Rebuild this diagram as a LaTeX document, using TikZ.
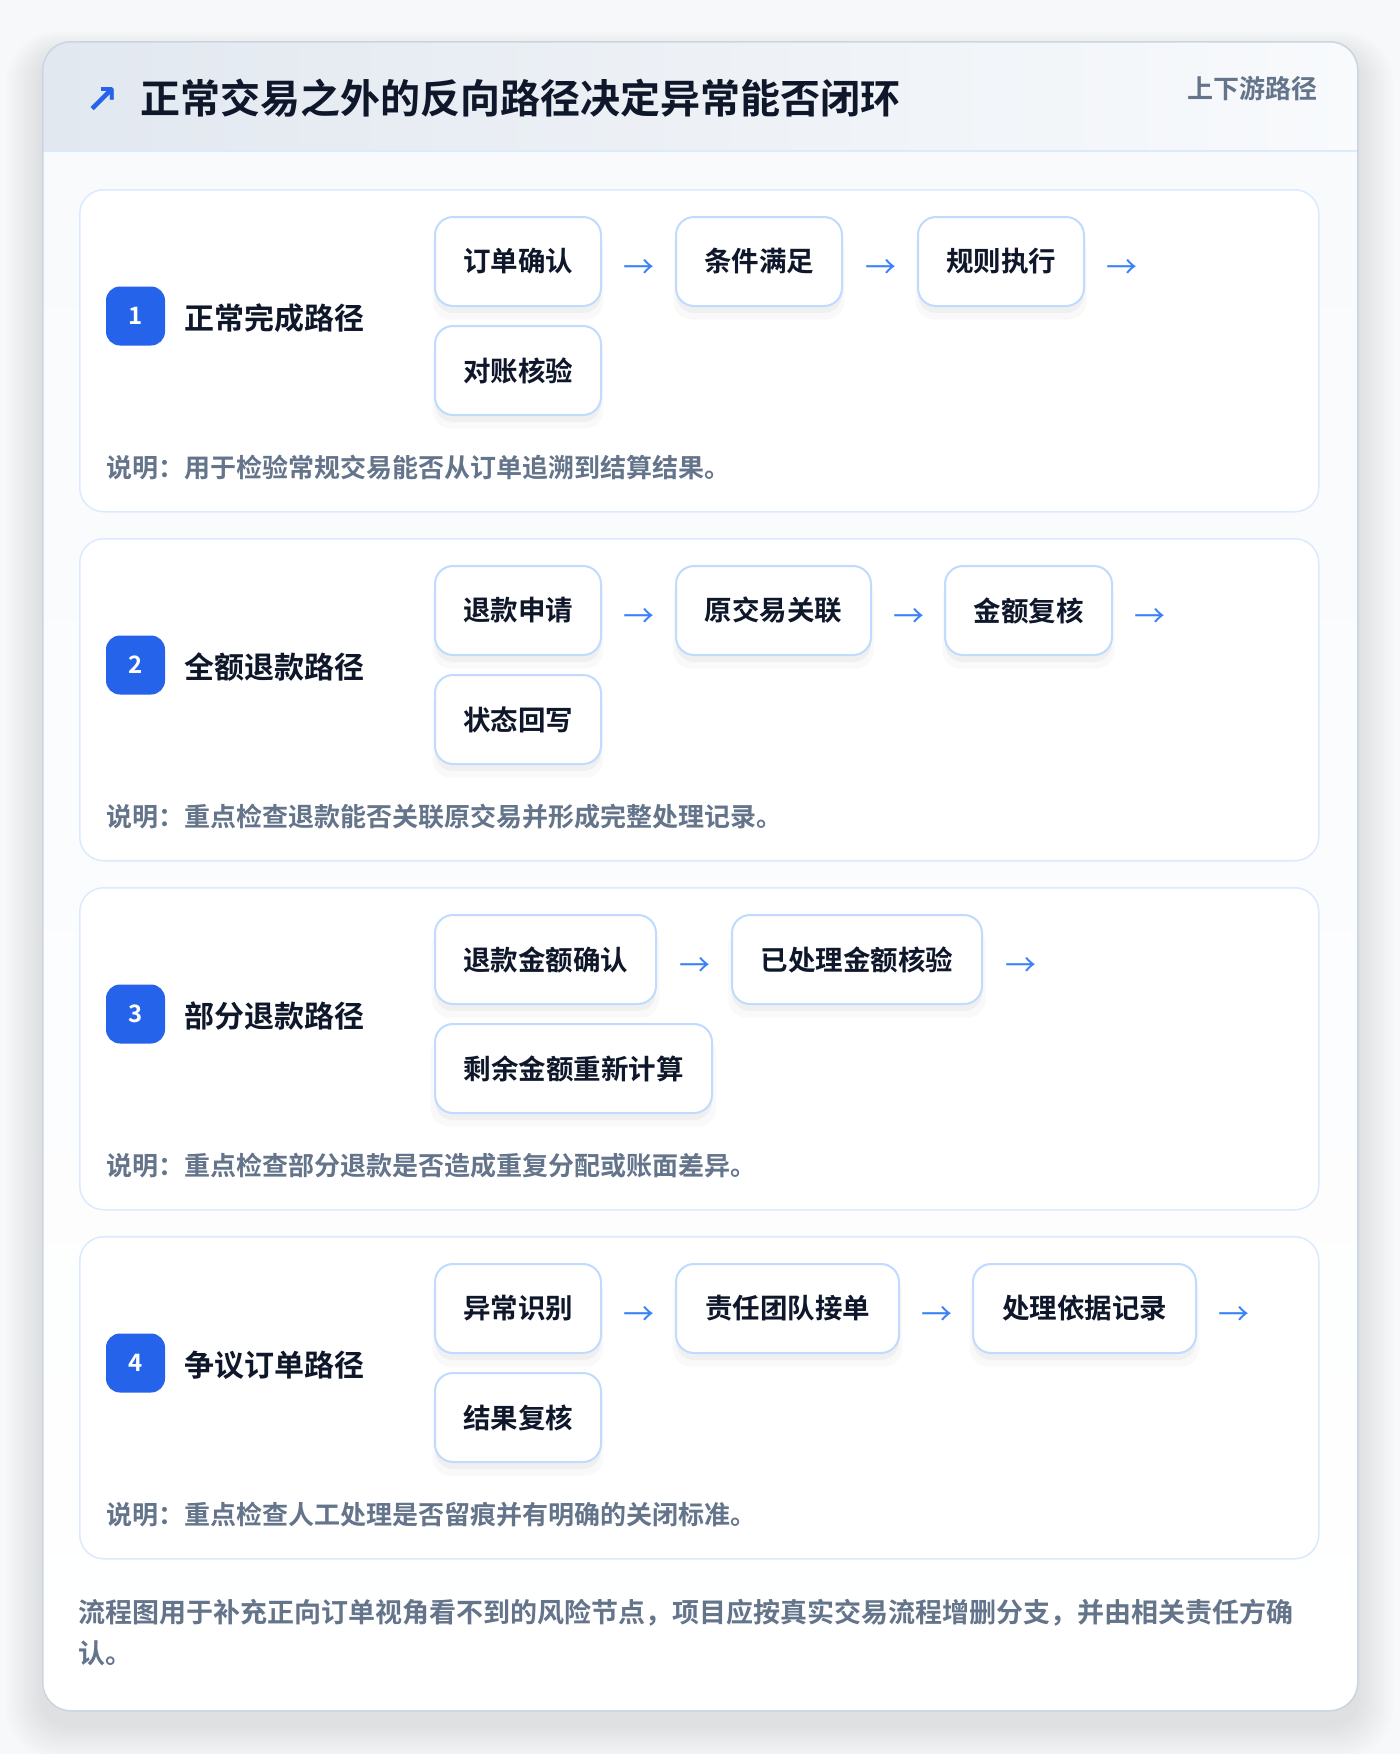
\documentclass[tikz,border=0pt]{standalone}
\usepackage{fontspec}
\setmainfont{Noto Sans CJK SC}[BoldFont={Noto Sans CJK SC Bold}]
\newfontfamily\symfont{DejaVu Sans}
\usetikzlibrary{shadows}
\definecolor{ink}{HTML}{0F172A}
\definecolor{muted}{HTML}{64748B}
\definecolor{badgeblue}{HTML}{2563EB}
\definecolor{arrowblue}{HTML}{3B82F6}
\definecolor{stepborder}{HTML}{BFDBFE}
\definecolor{secborder}{HTML}{DBEAFE}
\definecolor{cardborder}{HTML}{CBD5E1}
\definecolor{hdrL}{HTML}{E2E8F0}
\definecolor{hdrR}{HTML}{F8FAFC}
\definecolor{bodyT}{HTML}{F8FAFC}
\definecolor{pagebg}{HTML}{F7F8FA}
\begin{document}
\begin{tikzpicture}[x=1pt,y=-1pt,
  secbox/.style={draw=secborder, line width=1.5pt, fill=white, rounded corners=24pt,
    minimum width=1239pt, minimum height=322pt, inner sep=0pt},
  badge/.style={fill=badgeblue, rounded corners=14pt, minimum width=59pt, minimum height=59pt,
    inner sep=0pt, text=white, font=\bfseries\fontsize{24pt}{28pt}\selectfont},
  seclabel/.style={anchor=west, text=ink, inner sep=0pt, font=\bfseries\fontsize{30pt}{34pt}\selectfont},
  stepbox/.style={draw=stepborder, line width=2pt, fill=white, rounded corners=18pt,
    minimum height=89pt, inner sep=0pt, anchor=west, text=ink,
    font=\bfseries\fontsize{27.5pt}{32pt}\selectfont,
    drop shadow={shadow xshift=0pt, shadow yshift=-7pt, opacity=0.035, fill=black},
    drop shadow={shadow xshift=0pt, shadow yshift=-12pt, shadow scale=1.03, opacity=0.025, fill=black}},
  arrowtxt/.style={text=arrowblue, inner sep=0pt, font=\fontsize{31pt}{32pt}\selectfont},
  desc/.style={anchor=west, text=muted, inner sep=0pt, font=\bfseries\fontsize{26pt}{30pt}\selectfont},
  foot/.style={anchor=west, text=muted, inner sep=0pt, font=\bfseries\fontsize{27pt}{32pt}\selectfont}
]
\fill[pagebg] (0,0) rectangle (1400,1754);
\useasboundingbox (0,0) rectangle (1400,1754);
% card shadow
\foreach \i in {1,...,12}{
  \pgfmathsetmacro\rr{28+\i*2}
  \fill[black, opacity=0.007, rounded corners=\rr pt] (42-\i*3, 41-\i*2+14) rectangle (1357+\i*3, 1710+\i*3+14);
}
% card body
\begin{scope}
  \clip[rounded corners=28pt] (42,41) rectangle (1357,1710);
  \fill[white] (42,41) rectangle (1357,1710);
  \shade[left color=hdrL, right color=hdrR] (42,41) rectangle (1357,151);
  \shade[top color=bodyT, bottom color=white] (42,151) rectangle (1357,1710);
\end{scope}
\draw[secborder, line width=2pt] (42,151) -- (1357,151);
\node[draw=cardborder, line width=1.5pt, rounded corners=28pt, minimum width=1315pt,
  minimum height=1669pt, anchor=north west, inner sep=0pt] (card) at (42,41) {};
% header
\node[text=badgeblue, inner sep=0pt, font=\symfont\bfseries\fontsize{40pt}{40pt}\selectfont] (icon) at (102,100) {↗};
\node[anchor=west, text=ink, inner sep=0pt, font=\bfseries\fontsize{40pt}{46pt}\selectfont] (title) at (140,98) {正常交易之外的反向路径决定异常能否闭环};
\node[anchor=east, text=muted, inner sep=0pt, font=\bfseries\fontsize{26pt}{30pt}\selectfont] (tag) at (1318,89) {上下游路径};

% ---------- section 1 ----------
\node[secbox, anchor=north west] (sec1) at (79,189) {};
\node[badge] (num1) at (135.5,316) {1};
\node[seclabel] (lab1) at (184,318) {正常完成路径};
\node[stepbox, minimum width=166pt] (s1a) at (434,261.5) {订单确认};
\node[arrowtxt] (a1a) at (638.5,269) {→};
\node[stepbox, minimum width=166pt] (s1b) at (675,261.5) {条件满足};
\node[arrowtxt] (a1b) at (880.5,269) {→};
\node[stepbox, minimum width=166pt] (s1c) at (917,261.5) {规则执行};
\node[arrowtxt] (a1c) at (1122,269) {→};
\node[stepbox, minimum width=166pt] (s1d) at (434,370.5) {对账核验};
\node[desc] (d1) at (106,468) {说明：用于检验常规交易能否从订单追溯到结算结果。};

% ---------- section 2 ----------
\node[secbox, anchor=north west] (sec2) at (79,538) {};
\node[badge] (num2) at (135.5,665) {2};
\node[seclabel] (lab2) at (184,667) {全额退款路径};
\node[stepbox, minimum width=166pt] (s2a) at (434,610.5) {退款申请};
\node[arrowtxt] (a2a) at (638.5,618) {→};
\node[stepbox, minimum width=195pt] (s2b) at (675,610.5) {原交易关联};
\node[arrowtxt] (a2b) at (908.5,618) {→};
\node[stepbox, minimum width=167pt] (s2c) at (944,610.5) {金额复核};
\node[arrowtxt] (a2c) at (1150,618) {→};
\node[stepbox, minimum width=166pt] (s2d) at (434,719.5) {状态回写};
\node[desc] (d2) at (106,817) {说明：重点检查退款能否关联原交易并形成完整处理记录。};

% ---------- section 3 ----------
\node[secbox, anchor=north west] (sec3) at (79,887) {};
\node[badge] (num3) at (135.5,1014) {3};
\node[seclabel] (lab3) at (184,1016) {部分退款路径};
\node[stepbox, minimum width=221pt] (s3a) at (434,959.5) {退款金额确认};
\node[arrowtxt] (a3a) at (694.5,967) {→};
\node[stepbox, minimum width=250pt] (s3b) at (731,959.5) {已处理金额核验};
\node[arrowtxt] (a3b) at (1020.5,967) {→};
\node[stepbox, minimum width=277pt] (s3c) at (434,1068.5) {剩余金额重新计算};
\node[desc] (d3) at (106,1166) {说明：重点检查部分退款是否造成重复分配或账面差异。};

% ---------- section 4 ----------
\node[secbox, anchor=north west] (sec4) at (79,1236) {};
\node[badge] (num4) at (135.5,1363) {4};
\node[seclabel] (lab4) at (184,1365) {争议订单路径};
\node[stepbox, minimum width=166pt] (s4a) at (434,1308.5) {异常识别};
\node[arrowtxt] (a4a) at (638.5,1316) {→};
\node[stepbox, minimum width=223pt] (s4b) at (675,1308.5) {责任团队接单};
\node[arrowtxt] (a4b) at (936.5,1316) {→};
\node[stepbox, minimum width=223pt] (s4c) at (972,1308.5) {处理依据记录};
\node[arrowtxt] (a4c) at (1233.5,1316) {→};
\node[stepbox, minimum width=166pt] (s4d) at (434,1417.5) {结果复核};
\node[desc] (d4) at (106,1515) {说明：重点检查人工处理是否留痕并有明确的关闭标准。};

% footer
\node[foot] (f1) at (78,1613) {流程图用于补充正向订单视角看不到的风险节点，项目应按真实交易流程增删分支，并由相关责任方确};
\node[foot] (f2) at (78,1653) {认。};
\end{tikzpicture}
\end{document}
